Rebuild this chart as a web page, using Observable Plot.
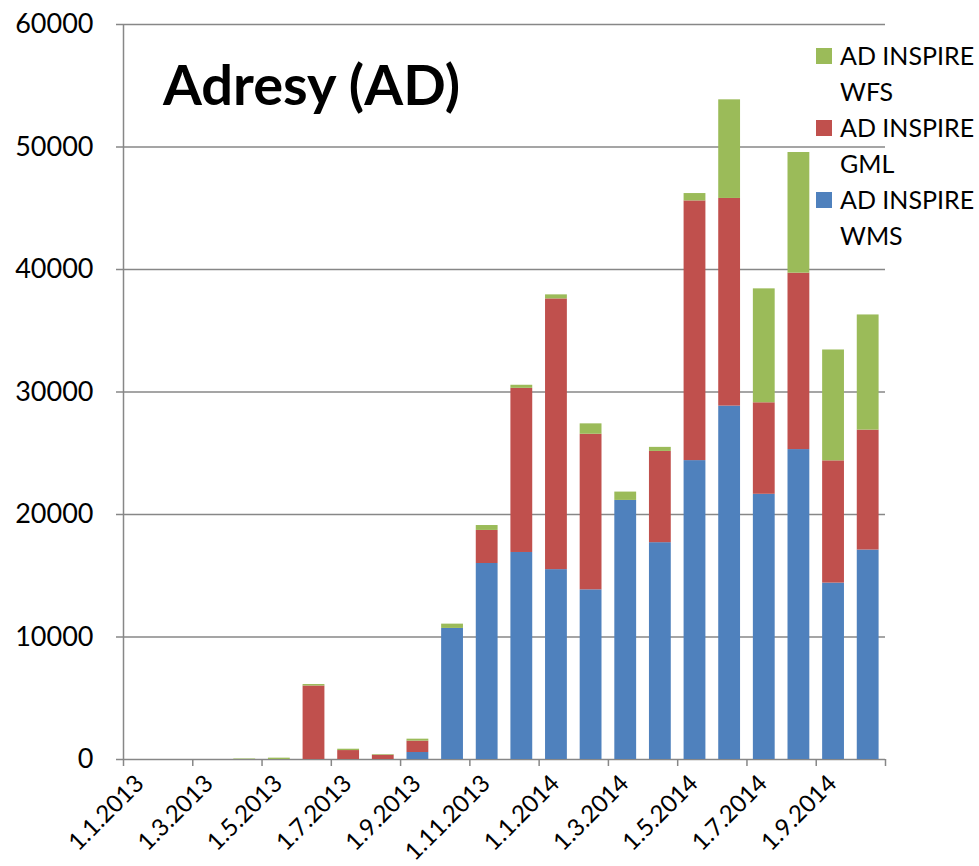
<!DOCTYPE html>
<html>
<head>
<meta charset="utf-8">
<script src="https://cdn.jsdelivr.net/npm/d3@7"></script>
<script src="https://cdn.jsdelivr.net/npm/@observablehq/plot@0.6"></script>
<style>
  html, body { margin: 0; padding: 0; background: white; }
  #chart svg text { fill: #000; }
</style>
</head>
<body>
<div id="chart"></div>
<script>
// ---- data ----
const months = ["1.1.2013","1.2.2013","1.3.2013","1.4.2013","1.5.2013","1.6.2013","1.7.2013","1.8.2013","1.9.2013","1.10.2013","1.11.2013","1.12.2013","1.1.2014","1.2.2014","1.3.2014","1.4.2014","1.5.2014","1.6.2014","1.7.2014","1.8.2014","1.9.2014","1.10.2014"];
const wms = [0,0,0,0,0,0,0,0,570,10700,16000,16900,15500,13850,21150,17700,24400,28850,21650,25300,14400,17100];
const gml = [0,0,0,0,0,6000,730,350,930,0,2700,13400,22100,12700,0,7450,21200,16950,7470,14400,9980,9790];
const wfs = [0,0,0,40,110,120,110,50,160,350,400,250,330,850,680,330,600,8050,9300,9850,9050,9400];
const seriesNames = ["AD INSPIRE WMS","AD INSPIRE GML","AD INSPIRE WFS"];
const seriesColors = ["#4F81BD","#C0504D","#9BBB59"];
const yTicks = [0,10000,20000,30000,40000,50000,60000];
const xTickLabels = months.filter((d,i) => i % 2 === 0);
const title = "Adresy (AD)";

// ---- layout ----
const W = 979, H = 866, ML = 123, MR = 94, MT = 24, MB = 107;
const step = (W - ML - MR) / months.length;
const gray = "#878787";

const seriesValues = [wms, gml, wfs];
const rows = months.flatMap((m, i) => seriesNames.map((s, k) => ({month: m, series: s, value: seriesValues[k][i]})));

const plot = Plot.plot({
  width: W, height: H,
  marginLeft: ML, marginRight: MR, marginTop: MT, marginBottom: MB,
  style: {fontFamily: "Lato", fontSize: "25px", color: gray, background: "white", overflow: "visible"},
  x: {type: "band", domain: months, paddingInner: 0.37, paddingOuter: 0.185, round: false, label: null},
  y: {domain: [0, 60000], label: null},
  color: {domain: seriesNames, range: seriesColors},
  marks: [
    Plot.ruleY(yTicks, {stroke: gray, strokeWidth: 1.5}),
    Plot.barY(rows, {x: "month", y: "value", fill: "series"}),
    Plot.axisY(yTicks, {tickSize: 7, tickPadding: 23, fontSize: 27, tickFormat: d => String(d), label: null, strokeWidth: 1.5}),
    Plot.axisX(xTickLabels, {tickSize: 7, tickFormat: () => "", dx: -step / 2, label: null, strokeWidth: 1.5}),
    Plot.axisX([months[months.length - 1]], {tickSize: 7, tickFormat: () => "", dx: step / 2, label: null, strokeWidth: 1.5}),
    Plot.ruleX([months[0]], {dx: -step / 2, stroke: gray, strokeWidth: 1.5}),
    Plot.text(xTickLabels, {x: d => d, text: d => d, frameAnchor: "bottom", rotate: -45, textAnchor: "end", lineAnchor: "middle", dx: -1, dy: 20, fontSize: 24})
  ]
});
document.getElementById("chart").appendChild(plot);

// ---- title & legend ----
const svg = d3.select(plot);
svg.append("text")
  .attr("x", 163).attr("y", 105)
  .attr("text-anchor", "start")
  .attr("font-family", "Lato").attr("font-weight", "bold").attr("font-size", 56)
  .text(title);

const legendItems = seriesNames.map((s, i) => ({name: s, color: seriesColors[i]})).reverse();
const lg = svg.append("g").attr("font-family", "Lato").attr("font-size", 25).attr("text-anchor", "start");
legendItems.forEach((it, i) => {
  const top = 56 + i * 72;
  lg.append("rect").attr("x", 816).attr("y", top - 8).attr("width", 16).attr("height", 16).attr("fill", it.color);
  const words = it.name.split(" ");
  const parts = [words.slice(0, 2).join(" "), words.slice(2).join(" ")];
  parts.forEach((p, j) => {
    lg.append("text").attr("x", 840).attr("y", top + 9 + j * 36).text(p);
  });
});
</script>
</body>
</html>
